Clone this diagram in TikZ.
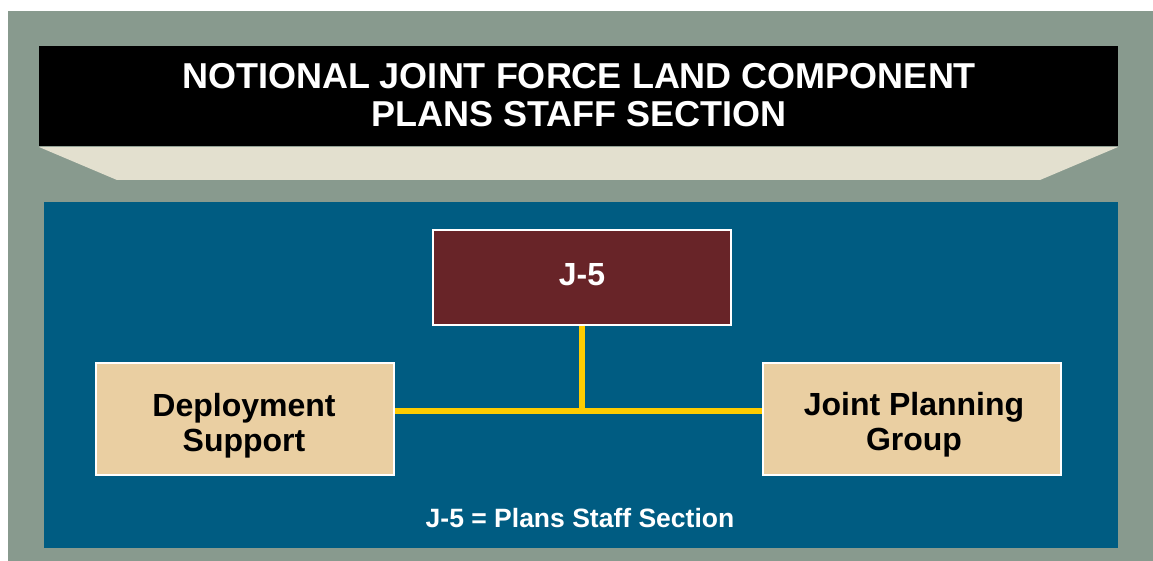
\documentclass[tikz,border=0pt]{standalone}
\usepackage{fontspec}
\setmainfont{Liberation Sans}
\definecolor{bggray}{HTML}{889A8E}
\definecolor{panelblue}{HTML}{005C82}
\definecolor{trapbeige}{HTML}{E3E0CF}
\definecolor{boxtan}{HTML}{EACFA2}
\definecolor{linkyellow}{HTML}{FFCC00}
\definecolor{maroon}{HTML}{682428}
\begin{document}
\begin{tikzpicture}[x=1pt,y=-1pt,
  orgbox/.style={draw=white,line width=2pt,minimum width=298pt,minimum height=112pt,inner sep=0pt},
  boxtext/.style={align=center,inner sep=0pt,font=\bfseries\fontsize{32}{35}\selectfont},
  link/.style={draw=linkyellow,line width=6pt}]
\useasboundingbox (0,0) rectangle (1153,561);
\fill[white] (0,0) rectangle (1153,561);
\fill[bggray] (8,11) rectangle (1153,561);
\fill[black] (39,46) rectangle (1118,146);
\fill[trapbeige] (39,147) -- (1118,147) -- (1040,180) -- (117,180) -- cycle;
\fill[panelblue] (44,202) rectangle (1118,548);
\node[text=white,align=center,inner sep=0pt,font=\bfseries\fontsize{36}{38}\selectfont] (title) at (579,95.5) {NOTIONAL JOINT FORCE LAND COMPONENT\\PLANS STAFF SECTION};
\node[orgbox,fill=maroon,minimum height=94pt] (j5) at (581.5,277.5) {};
\node[orgbox,fill=boxtan] (dep) at (245,418.5) {};
\node[orgbox,fill=boxtan] (jpg) at (911.5,418.5) {};
\node[boxtext,text=white] (j5t) at (582,275) {J-5};
\node[boxtext,text=black] (dept) at (244,426) {Deployment\\Support};
\node[boxtext,text=black] (jpgt) at (914,424.5) {Joint Planning\\Group};
\coordinate (mid) at (581.5,411);
\draw[link] (j5.south) -- (mid);
\draw[link] (dep.east |- mid) -- (jpg.west |- mid);
\node[text=white,inner sep=0pt,font=\bfseries\fontsize{26.5}{30}\selectfont] (cap) at (580,518) {J-5 = Plans Staff Section};
\end{tikzpicture}
\end{document}
